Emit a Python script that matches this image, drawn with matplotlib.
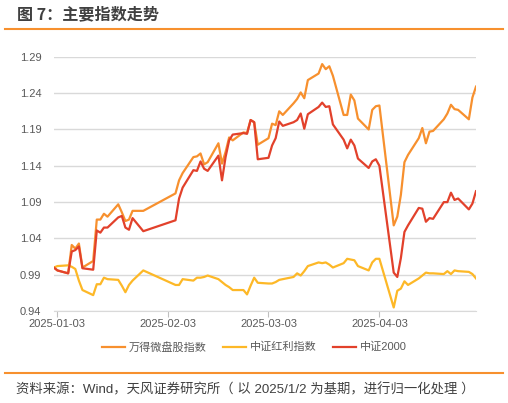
import matplotlib
matplotlib.use('Agg')
import matplotlib.pyplot as plt
import matplotlib.dates as mdates
import pandas as pd

plt.rcParams['font.family'] = ['Liberation Sans', 'Noto Sans CJK SC']

# trading days, 2025-01-02 .. 2025-04-30
dates = pd.to_datetime([
    '2025-01-02', '2025-01-03', '2025-01-06', '2025-01-07', '2025-01-08', '2025-01-09', '2025-01-10',
    '2025-01-13', '2025-01-14', '2025-01-15', '2025-01-16', '2025-01-17',
    '2025-01-20', '2025-01-21', '2025-01-22', '2025-01-23', '2025-01-24', '2025-01-27',
    '2025-02-05', '2025-02-06', '2025-02-07',
    '2025-02-10', '2025-02-11', '2025-02-12', '2025-02-13', '2025-02-14',
    '2025-02-17', '2025-02-18', '2025-02-19', '2025-02-20', '2025-02-21',
    '2025-02-24', '2025-02-25', '2025-02-26', '2025-02-27', '2025-02-28',
    '2025-03-03', '2025-03-04', '2025-03-05', '2025-03-06', '2025-03-07',
    '2025-03-10', '2025-03-11', '2025-03-12', '2025-03-13', '2025-03-14',
    '2025-03-17', '2025-03-18', '2025-03-19', '2025-03-20', '2025-03-21',
    '2025-03-24', '2025-03-25', '2025-03-26', '2025-03-27', '2025-03-28', '2025-03-31',
    '2025-04-01', '2025-04-02', '2025-04-03',
    '2025-04-07', '2025-04-08', '2025-04-09', '2025-04-10', '2025-04-11',
    '2025-04-14', '2025-04-15', '2025-04-16', '2025-04-17', '2025-04-18',
    '2025-04-21', '2025-04-22', '2025-04-23', '2025-04-24', '2025-04-25',
    '2025-04-28', '2025-04-29', '2025-04-30',
])

micro_cap = [
    1.000, 0.996, 0.992, 1.031, 1.026, 1.033, 1.000,
    1.009, 1.066, 1.066, 1.074, 1.070,
    1.087, 1.076, 1.064, 1.066, 1.078, 1.078,
    1.102, 1.120, 1.130,
    1.152, 1.153, 1.157, 1.142, 1.145,
    1.171, 1.143, 1.159, 1.179, 1.175,
    1.186, 1.185, 1.203, 1.200, 1.169,
    1.178, 1.198, 1.196, 1.215, 1.210,
    1.226, 1.232, 1.241, 1.233, 1.258,
    1.267, 1.280, 1.273, 1.277, 1.264,
    1.210, 1.210, 1.238, 1.230, 1.205, 1.190,
    1.217, 1.222, 1.223,
    1.058, 1.070, 1.100, 1.145, 1.155,
    1.178, 1.192, 1.171, 1.187, 1.188,
    1.204, 1.212, 1.224, 1.218, 1.217,
    1.204, 1.234, 1.249,
]

dividend = [
    1.000, 1.002, 1.003, 1.001, 0.998, 0.982, 0.969,
    0.962, 0.977, 0.977, 0.986, 0.984,
    0.983, 0.975, 0.966, 0.976, 0.982, 0.996,
    0.976, 0.976, 0.984,
    0.982, 0.986, 0.986, 0.987, 0.989,
    0.984, 0.980, 0.976, 0.973, 0.969,
    0.969, 0.963, 0.975, 0.986, 0.979,
    0.978, 0.978, 0.980, 0.983, 0.984,
    0.987, 0.992, 0.989, 0.995, 1.002,
    1.007, 1.006, 1.007, 1.004, 1.000,
    1.006, 1.012, 1.011, 1.010, 1.002, 0.996,
    1.007, 1.012, 1.012,
    0.945, 0.968, 0.971, 0.981, 0.976,
    0.985, 0.989, 0.993, 0.992, 0.992,
    0.991, 0.995, 0.991, 0.996, 0.995,
    0.994, 0.991, 0.985,
]

csi2000 = [
    1.000, 0.996, 0.992, 1.022, 1.024, 1.029, 0.999,
    0.997, 1.051, 1.048, 1.055, 1.055,
    1.069, 1.071, 1.055, 1.052, 1.068, 1.050,
    1.065, 1.095, 1.110,
    1.134, 1.133, 1.146, 1.136, 1.133,
    1.154, 1.120, 1.152, 1.175, 1.183,
    1.185, 1.184, 1.203, 1.200, 1.149,
    1.151, 1.168, 1.178, 1.201, 1.195,
    1.200, 1.203, 1.212, 1.191, 1.211,
    1.221, 1.227, 1.221, 1.222, 1.197,
    1.176, 1.164, 1.176, 1.168, 1.150, 1.137,
    1.146, 1.149, 1.140,
    0.993, 0.987, 1.013, 1.049, 1.058,
    1.082, 1.081, 1.063, 1.068, 1.067,
    1.090, 1.090, 1.103, 1.093, 1.095,
    1.080, 1.088, 1.105,
]

series_names = ['万得微盘股指数', '中证红利指数', '中证2000']
colors = ['#F7902E', '#FDB827', '#E2412B']
y_ticks = [0.94, 0.99, 1.04, 1.09, 1.14, 1.19, 1.24, 1.29]
x_ticks = pd.to_datetime(['2025-01-03', '2025-02-03', '2025-03-03', '2025-04-03'])

fig = plt.figure(figsize=(5.08, 4.03), dpi=100)
ax = fig.add_axes([0.106, 0.228, 0.831, 0.631])

for vals, name, c in zip([micro_cap, dividend, csi2000], series_names, colors):
    ax.plot(dates, vals, color=c, lw=1.6, label=name)

ax.set_ylim(0.94, 1.29)
ax.set_yticks(y_ticks)
ax.set_yticklabels([f'{v:.2f}' for v in y_ticks])
ax.set_xlim(dates[0], dates[-1])
ax.set_xticks(x_ticks)
ax.xaxis.set_major_formatter(mdates.DateFormatter('%Y-%m-%d'))

ax.grid(axis='y', color='#D9D9D9', lw=1)
ax.set_axisbelow(True)
for s in ['top', 'right', 'left']:
    ax.spines[s].set_visible(False)
ax.spines['bottom'].set_color('#D9D9D9')
ax.tick_params(axis='y', length=0, labelsize=8, labelcolor='#595959', pad=9)
ax.tick_params(axis='x', length=4, color='#BFBFBF', labelsize=8, labelcolor='#595959', pad=2)

fig.legend(loc='center', bbox_to_anchor=(0.5, 0.139), ncol=3, frameon=False,
           fontsize=8, labelcolor='#595959', handlelength=2.1, columnspacing=1.5,
           handletextpad=0.3)

# title and source
fig.text(0.033, 0.965, '图 7：主要指数走势', fontsize=11.6, fontweight='bold',
         color='#404040', va='center', family=['Noto Sans CJK SC', 'DejaVu Sans'])
fig.add_artist(plt.Line2D([0.01, 0.99], [0.927, 0.927], color='#F7902E', lw=1.5))
fig.add_artist(plt.Line2D([0.01, 0.99], [0.074, 0.074], color='#F7902E', lw=1.5))
fig.text(0.031, 0.032, '资料来源：Wind，天风证券研究所（ 以 2025/1/2 为基期，进行归一化处理 ）',
         fontsize=9.6, color='#404040', va='center')

fig.savefig('out.png', dpi=100)
